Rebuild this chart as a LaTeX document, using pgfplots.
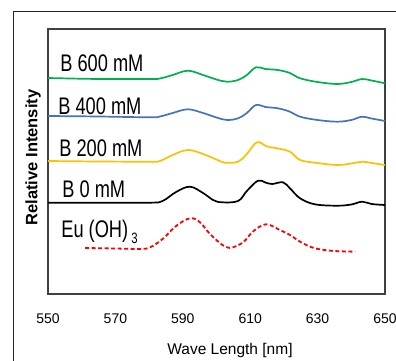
\documentclass[border=0pt]{standalone}
\usepackage{fontspec}
\setmainfont{Liberation Sans}
\newfontfamily\condfont[FakeStretch=0.76]{Liberation Sans}
\usepackage{pgfplots}
\pgfplotsset{compat=1.18}
\definecolor{cgreen}{HTML}{00B050}
\definecolor{cblue}{HTML}{4472C4}
\definecolor{cyellow}{HTML}{FFC000}
\definecolor{cred}{HTML}{FF0000}
\begin{document}
\begin{tikzpicture}[x=1pt,y=1pt]
\useasboundingbox (0,0) rectangle (396,361);
\draw[line width=1.2pt, black!85] (13.3,0) -- (13.3,349.3) -- (396,349.3);
\begin{axis}[
  at={(48pt,67pt)}, anchor=south west,
  scale only axis, width=337pt, height=265pt,
  xmin=550, xmax=650, ymin=0, ymax=265,
  xtick={550,570,590,610,630,650}, ytick=\empty,
  major tick length=0pt,
  axis line style={black!75, line width=1.2pt},
  tick label style={font=\fontsize{14}{16}\selectfont},
  /pgf/number format/assume math mode=true,
  xticklabel style={yshift=-16pt},
  xlabel={Wave Length [nm]},
  xlabel style={at={(axis description cs:0.54,-0.213)}, anchor=center, font=\fontsize{15.5}{17}\selectfont},
  ylabel={Relative Intensity},
  ylabel style={at={(axis description cs:-0.0445,0.515)}, anchor=center, font=\bfseries\fontsize{16.5}{18}\selectfont},
  clip=false,
  every axis plot/.append style={smooth, tension=0.6, line width=1.7pt}
]
% B 600 mM
\addplot[cgreen] coordinates {(550,216) (565,215) (580.3,215) (583.2,215.5) (587,219) (591.5,223.3) (596,219) (600,214.5) (603.1,212.3) (606.4,214) (609,219) (611.7,226.7) (614.5,225) (618.2,224) (621.8,221) (624.8,215.7) (630,212) (635.8,210) (640,212) (643.2,215) (646,213.5) (650,210.7)};
% B 400 mM
\addplot[cblue] coordinates {(550,178) (565,177.5) (580.3,176.7) (583.2,177.5) (587,181) (591.5,184.7) (596,181) (600,176.5) (603.1,174) (606.4,175.7) (609,181) (611.7,189) (614.5,187) (618.2,185.7) (621.8,182.3) (624.8,177.3) (630,174) (635.8,172.3) (640,174) (643.2,177.3) (646,175.5) (650,173)};
% B 200 mM
\addplot[cyellow] coordinates {(550,133) (565,132.5) (580.3,132.3) (583.2,133) (587,139) (591.5,144) (596,140) (600,134.5) (602.5,131.3) (606.4,132.3) (609,140) (612,151.7) (615,147.5) (618,145.7) (621.8,142.3) (624.8,134) (630,131) (635.8,129) (640,130.5) (643.2,132.3) (646,131) (650,129)};
% B 0 mM
\addplot[black] coordinates {(550,91.3) (565,91.3) (580.3,91.3) (584,93) (588,102) (592.1,107.3) (596,101) (599,94) (601.6,91.7) (606.4,93) (609,103) (612.3,113.3) (614.5,111.5) (616.5,110) (619.7,111.7) (621.8,105.7) (624.8,95.7) (629.2,89.7) (635.8,88.3) (640,89.5) (643.2,92.3) (646,90) (650,89)};
% Eu(OH)3
\addplot[cred, dash pattern=on 4pt off 2.5pt, line width=1.8pt] coordinates {(561,46) (570,45.5) (577.3,45) (580.3,46.7) (584,55) (588,68) (592.1,75.7) (595,72) (597.8,61) (601,51) (603.1,46.7) (604.9,46.7) (608,52) (611,63) (614.7,69.7) (618.8,64) (621.8,59) (624.8,52.3) (628,47) (630.7,44.7) (635,43) (641.1,42.3)};
\begin{scope}[every node/.style={anchor=west, inner sep=0pt, font=\condfont\fontsize{24}{26}\selectfont}]
\node at (axis cs:553.6,231) {B 600 mM};
\node at (axis cs:553.0,188) {B 400 mM};
\node at (axis cs:553.3,146) {B 200 mM};
\node at (axis cs:554.2,105) {B 0 mM};
\node at (axis cs:553.9,62) {Eu (OH)\raisebox{-6pt}{\fontsize{15}{17}\selectfont\ 3}};
\end{scope}
\end{axis}
\end{tikzpicture}
\end{document}
